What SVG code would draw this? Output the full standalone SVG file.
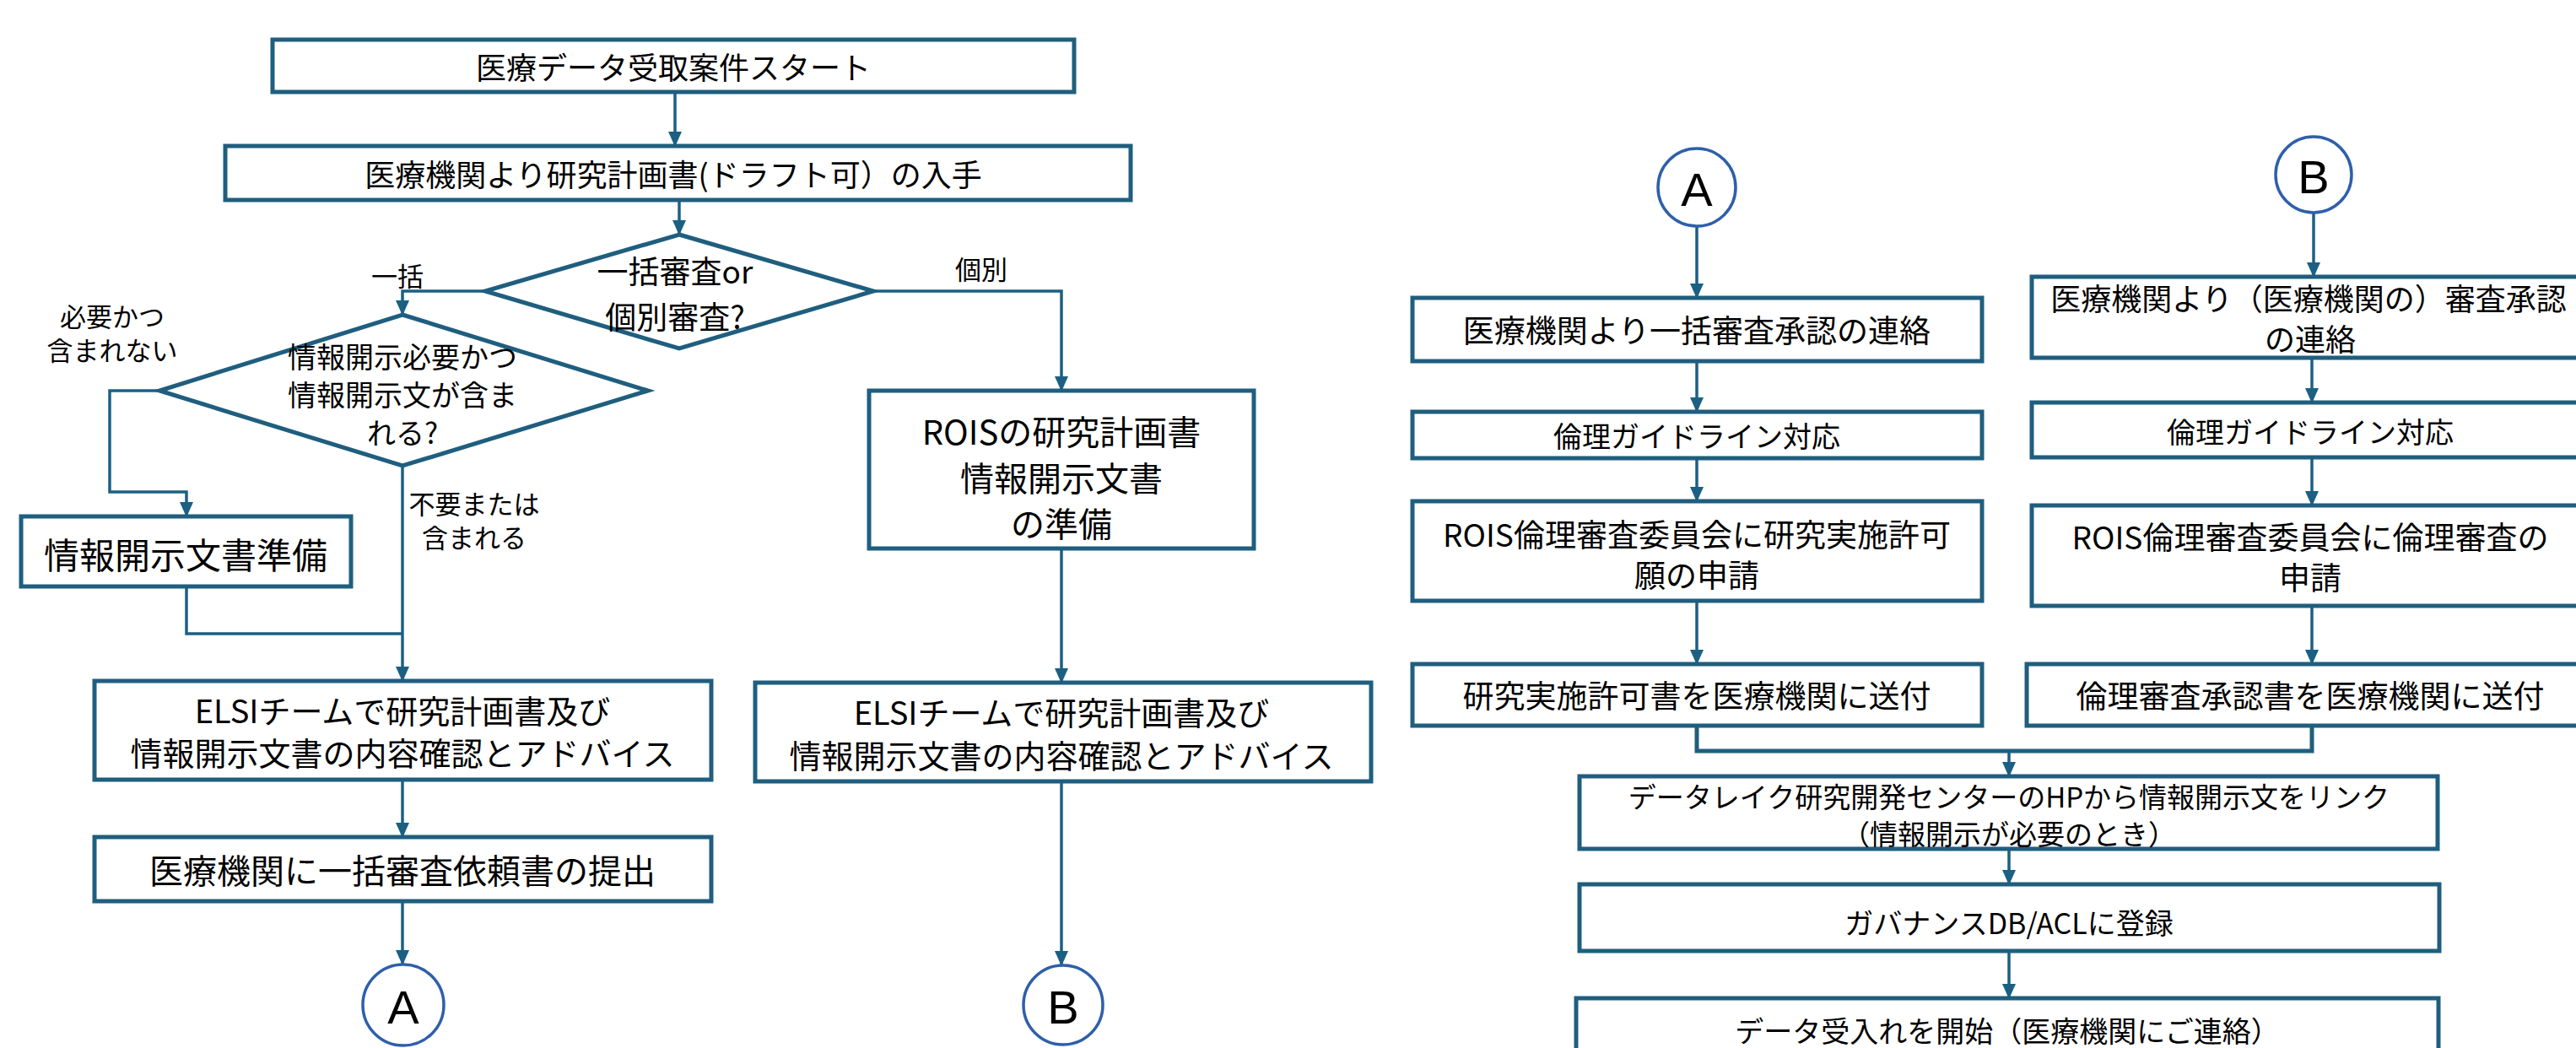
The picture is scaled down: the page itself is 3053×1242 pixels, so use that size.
<svg xmlns="http://www.w3.org/2000/svg" width="3053" height="1242" viewBox="0 0 3053 1242">
<style>
.box{fill:#fff;stroke:#1F5E7E;stroke-width:5}
.dia{fill:#fff;stroke:#1F5E7E;stroke-width:5}
.circ{fill:#fff;stroke:#2F5FAA;stroke-width:3.5}
.t{font-family:"Noto Sans CJK JP","Noto Sans",sans-serif;fill:#000;text-anchor:middle;dominant-baseline:central}
.l{font-family:"Noto Sans CJK JP","Noto Sans",sans-serif;fill:#000;text-anchor:middle;dominant-baseline:central;font-size:31px}
.c{font-family:"Liberation Sans",Arial,sans-serif;fill:#000;text-anchor:middle;dominant-baseline:central;font-size:56px}
.ln{fill:none;stroke:#1B6083;stroke-width:3.5}
.lk{fill:none;stroke:#1F5E7E;stroke-width:5}
.ar{fill:none;stroke:#1B6083;stroke-width:3.5;marker-end:url(#ah)}
</style>
<defs>
<marker id="ah" markerUnits="userSpaceOnUse" markerWidth="18" markerHeight="24" refX="17" refY="8" orient="auto">
<path d="M0,0 L18,8 L0,16 Z" fill="#1B6083"/>
</marker>
</defs>
<rect width="3053" height="1242" fill="#fff"/>

<g id="connectors">
<line class="ar" x1="800" y1="109" x2="800" y2="173"/>
<line class="ar" x1="805" y1="237" x2="805" y2="278"/>
<polyline class="ar" points="575,345 477,345 477,373"/>
<polyline class="ar" points="189,463 130,463 130,583 221,583 221,612"/>
<polyline class="ln" points="221,695 221,751 477,751"/>
<line class="ar" x1="477" y1="552" x2="477" y2="807"/>
<line class="ar" x1="477" y1="924" x2="477" y2="992"/>
<line class="ar" x1="477" y1="1068" x2="477" y2="1143"/>
<polyline class="ar" points="1035,345 1258,345 1258,463"/>
<line class="ar" x1="1258" y1="650" x2="1258" y2="809"/>
<line class="ar" x1="1258" y1="926" x2="1258" y2="1144"/>
<line class="ar" x1="2011" y1="268" x2="2011" y2="353"/>
<line class="ar" x1="2011" y1="428" x2="2011" y2="488"/>
<line class="ar" x1="2011" y1="543" x2="2011" y2="594"/>
<line class="ar" x1="2011" y1="712" x2="2011" y2="787"/>
<line class="ar" x1="2742" y1="252" x2="2742" y2="328"/>
<line class="ar" x1="2740" y1="424" x2="2740" y2="477"/>
<line class="ar" x1="2740" y1="542" x2="2740" y2="599"/>
<line class="ar" x1="2740" y1="718" x2="2740" y2="787"/>
<polyline class="lk" points="2011,860 2011,890 2740,890 2740,860"/>
<line class="ar" x1="2381" y1="890" x2="2381" y2="920"/>
<line class="ar" x1="2381" y1="1006" x2="2381" y2="1048"/>
<line class="ar" x1="2381" y1="1127" x2="2381" y2="1183"/>
</g>

<g id="start"><rect class="box" x="323" y="47" width="950" height="62"/><text class="t" x="798" y="78" font-size="36">医療データ受取案件スタート</text></g>
<g id="obtain"><rect class="box" x="267" y="173" width="1073" height="64"/><text class="t" x="798" y="205" font-size="36">医療機関より研究計画書(ドラフト可）の入手</text></g>
<g id="dec1"><polygon class="dia" points="805,278 1035,345 805,413 575,345"/><text class="t" x="800" y="320" font-size="37">一括審査or</text><text class="t" x="800" y="374" font-size="37">個別審査?</text></g>
<g id="lbl-ikkatsu"><text class="l" x="471" y="325">一括</text></g>
<g id="lbl-kobetsu"><text class="l" x="1163" y="317">個別</text></g>
<g id="dec2"><polygon class="dia" points="477,373 768,463 477,552 189,463"/><text class="t" x="477" y="421" font-size="34">情報開示必要かつ</text><text class="t" x="477" y="466" font-size="34">情報開示文が含ま</text><text class="t" x="477" y="511" font-size="34">れる?</text></g>
<g id="lbl-need"><text class="l" x="133" y="373">必要かつ</text><text class="l" x="133" y="413">含まれない</text></g>
<g id="lbl-noneed"><text class="l" x="562" y="595">不要または</text><text class="l" x="562" y="635">含まれる</text></g>
<g id="prep"><rect class="box" x="25" y="612" width="391" height="83"/><text class="t" x="220" y="655" font-size="42">情報開示文書準備</text></g>
<g id="elsi-l"><rect class="box" x="112" y="807" width="731" height="117"/><text class="t" x="477" y="840" font-size="38">ELSIチームで研究計画書及び</text><text class="t" x="477" y="890" font-size="38">情報開示文書の内容確認とアドバイス</text></g>
<g id="submit"><rect class="box" x="112" y="992" width="731" height="76"/><text class="t" x="477" y="1030" font-size="40">医療機関に一括審査依頼書の提出</text></g>
<g id="conA1"><circle class="circ" cx="478" cy="1191" r="48"/><text class="c" x="478" y="1193">A</text></g>
<g id="rois-prep"><rect class="box" x="1030" y="463" width="456" height="187"/><text class="t" x="1258" y="510" font-size="40">ROISの研究計画書</text><text class="t" x="1258" y="565" font-size="40">情報開示文書</text><text class="t" x="1258" y="619" font-size="40">の準備</text></g>
<g id="elsi-r"><rect class="box" x="895" y="809" width="730" height="117"/><text class="t" x="1258" y="842" font-size="38">ELSIチームで研究計画書及び</text><text class="t" x="1258" y="893" font-size="38">情報開示文書の内容確認とアドバイス</text></g>
<g id="conB1"><circle class="circ" cx="1260" cy="1191" r="47"/><text class="c" x="1260" y="1193">B</text></g>

<g id="conA2"><circle class="circ" cx="2011" cy="222" r="46"/><text class="c" x="2011" y="224">A</text></g>
<g id="ra1"><rect class="box" x="1674" y="353" width="675" height="75"/><text class="t" x="2011" y="390" font-size="37">医療機関より一括審査承認の連絡</text></g>
<g id="ra2"><rect class="box" x="1674" y="488" width="675" height="55"/><text class="t" x="2011" y="515" font-size="34">倫理ガイドライン対応</text></g>
<g id="ra3"><rect class="box" x="1674" y="594" width="675" height="118"/><text class="t" x="2011" y="632" font-size="37">ROIS倫理審査委員会に研究実施許可</text><text class="t" x="2011" y="680" font-size="37">願の申請</text></g>
<g id="ra4"><rect class="box" x="1674" y="787" width="675" height="73"/><text class="t" x="2011" y="823" font-size="37">研究実施許可書を医療機関に送付</text></g>
<g id="conB2"><circle class="circ" cx="2742" cy="207" r="45"/><text class="c" x="2742" y="209">B</text></g>
<g id="rb1"><rect class="box" x="2408" y="328" width="660" height="96"/><text class="t" x="2736" y="352" font-size="36">医療機関より（医療機関の）審査承認</text><text class="t" x="2738" y="400" font-size="36">の連絡</text></g>
<g id="rb2"><rect class="box" x="2408" y="477" width="660" height="65"/><text class="t" x="2738" y="510" font-size="34">倫理ガイドライン対応</text></g>
<g id="rb3"><rect class="box" x="2408" y="599" width="660" height="119"/><text class="t" x="2738" y="635" font-size="37">ROIS倫理審査委員会に倫理審査の</text><text class="t" x="2738" y="683" font-size="37">申請</text></g>
<g id="rb4"><rect class="box" x="2402" y="787" width="666" height="73"/><text class="t" x="2738" y="823" font-size="37">倫理審査承認書を医療機関に送付</text></g>
<g id="d1"><rect class="box" x="1872" y="920" width="1017" height="86"/><text class="t" x="2381" y="943" font-size="33">データレイク研究開発センターのHPから情報開示文をリンク</text><text class="t" x="2381" y="987" font-size="33">（情報開示が必要のとき）</text></g>
<g id="d2"><rect class="box" x="1872" y="1048" width="1019" height="79"/><text class="t" x="2381" y="1092" font-size="34">ガバナンスDB/ACLに登録</text></g>
<g id="d3"><rect class="box" x="1868" y="1183" width="1022" height="80"/><text class="t" x="2379" y="1220" font-size="34">データ受入れを開始（医療機関にご連絡）</text></g>
</svg>
